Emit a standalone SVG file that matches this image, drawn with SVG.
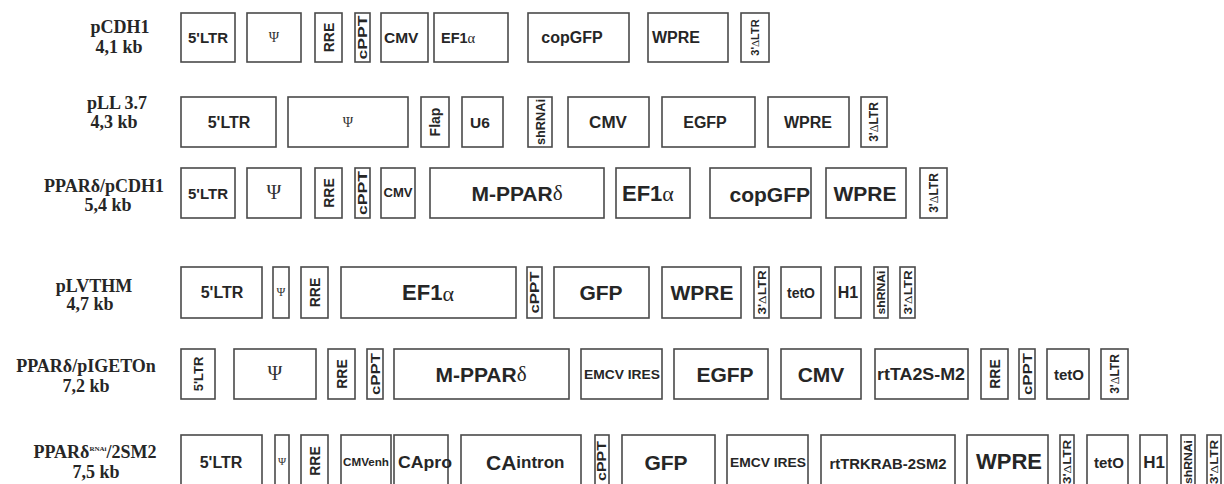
<svg xmlns="http://www.w3.org/2000/svg" width="1224" height="484" viewBox="0 0 1224 484">
<style>
.b{fill:#fff;stroke:#4a4a4a;stroke-width:1.6}
.t{font-family:"Liberation Sans",Arial,sans-serif;font-weight:bold;fill:#262626;text-anchor:middle;dominant-baseline:central}
.s{text-anchor:start}
.e{text-anchor:end}
.g{font-family:"Liberation Serif","Times New Roman",serif;font-weight:normal}
.psi{font-family:"Liberation Serif","Times New Roman",serif;font-weight:normal;fill:#333;text-anchor:middle;dominant-baseline:central}
.lab{font-family:"Liberation Serif","Times New Roman",serif;font-weight:bold;font-size:18px;fill:#262626;text-anchor:middle}
</style>
<rect width="1224" height="484" fill="#fff"/>

<!-- Row 1: pCDH1 -->
<g id="row1">
<g id="r1-label"><text class="lab" x="120" y="33">pCDH1</text><text class="lab" x="119" y="53">4,1 kb</text></g>
<g id="r1-5ltr"><rect class="b" x="181" y="13" width="54" height="49"/><text class="t" x="208" y="37.5" font-size="15">5'LTR</text></g>
<g id="r1-psi"><rect class="b" x="247" y="13" width="54" height="49"/><text class="psi" x="274" y="37" font-size="14">Ψ</text></g>
<g id="r1-rre"><rect class="b" x="315" y="13" width="27" height="49"/><text class="t" font-size="14" transform="translate(328.5,37.5) rotate(-90)">RRE</text></g>
<g id="r1-cppt"><rect class="b" x="355" y="13" width="15" height="49"/><text class="t" font-size="13" textLength="44" lengthAdjust="spacingAndGlyphs" transform="translate(362.5,37.5) rotate(-90)">cPPT</text></g>
<g id="r1-cmv"><rect class="b" x="381" y="13" width="47" height="49"/><text class="t s" x="384" y="37.5" font-size="15.5">CMV</text></g>
<g id="r1-ef1a"><rect class="b" x="434" y="13" width="74" height="49"/><text class="t s" x="441" y="37.5" font-size="14.5">EF1<tspan class="g">α</tspan></text></g>
<g id="r1-copgfp"><rect class="b" x="528" y="13" width="101" height="49"/><text class="t" x="572" y="37.5" font-size="16">copGFP</text></g>
<g id="r1-wpre"><rect class="b" x="648" y="13" width="80" height="49"/><text class="t s" x="652" y="37.5" font-size="16">WPRE</text></g>
<g id="r1-3ltr"><rect class="b" x="741" y="13" width="28" height="49"/><text class="t" font-size="11" transform="translate(755,37.5) rotate(-90)">3'<tspan class="g">Δ</tspan>LTR</text></g>
</g>

<!-- Row 2: pLL 3.7 -->
<g id="row2">
<g id="r2-label"><text class="lab" x="117" y="109">pLL 3.7</text><text class="lab" x="114" y="128">4,3 kb</text></g>
<g id="r2-5ltr"><rect class="b" x="181" y="97" width="95" height="50"/><text class="t" x="229" y="122" font-size="16">5'LTR</text></g>
<g id="r2-psi"><rect class="b" x="288" y="97" width="120" height="50"/><text class="psi" x="348" y="122" font-size="14">Ψ</text></g>
<g id="r2-flap"><rect class="b" x="421" y="97" width="28" height="50"/><text class="t" font-size="14" transform="translate(435,122) rotate(-90)">Flap</text></g>
<g id="r2-u6"><rect class="b" x="462" y="97" width="41" height="50"/><text class="t" x="480" y="122" font-size="15.5">U6</text></g>
<g id="r2-shrnai"><rect class="b" x="528" y="97" width="24" height="50"/><text class="t" font-size="13" textLength="46" lengthAdjust="spacingAndGlyphs" transform="translate(540,122) rotate(-90)">shRNAi</text></g>
<g id="r2-cmv"><rect class="b" x="568" y="97" width="81" height="50"/><text class="t" x="608" y="122" font-size="17">CMV</text></g>
<g id="r2-egfp"><rect class="b" x="662" y="97" width="93" height="50"/><text class="t" x="705" y="122" font-size="16">EGFP</text></g>
<g id="r2-wpre"><rect class="b" x="768" y="97" width="81" height="50"/><text class="t" x="808" y="122" font-size="16">WPRE</text></g>
<g id="r2-3ltr"><rect class="b" x="861" y="97" width="26" height="50"/><text class="t" font-size="12" transform="translate(874,122) rotate(-90)">3'<tspan class="g">Δ</tspan>LTR</text></g>
</g>

<!-- Row 3: PPARδ/pCDH1 -->
<g id="row3">
<g id="r3-label"><text class="lab" x="104" y="192">PPARδ/pCDH1</text><text class="lab" x="108" y="211">5,4 kb</text></g>
<g id="r3-5ltr"><rect class="b" x="181" y="168" width="54" height="50"/><text class="t" x="208" y="193" font-size="15">5'LTR</text></g>
<g id="r3-psi"><rect class="b" x="247" y="168" width="54" height="50"/><text class="psi" x="274" y="192" font-size="20">Ψ</text></g>
<g id="r3-rre"><rect class="b" x="315" y="168" width="27" height="50"/><text class="t" font-size="14" transform="translate(328.5,193) rotate(-90)">RRE</text></g>
<g id="r3-cppt"><rect class="b" x="355" y="168" width="15" height="50"/><text class="t" font-size="13" textLength="44" lengthAdjust="spacingAndGlyphs" transform="translate(362.5,193) rotate(-90)">cPPT</text></g>
<g id="r3-cmv"><rect class="b" x="381" y="168" width="34" height="50"/><text class="t" x="398" y="193" font-size="12" textLength="29" lengthAdjust="spacingAndGlyphs">CMV</text></g>
<g id="r3-mppar"><rect class="b" x="430" y="168" width="174" height="50"/><text class="t" x="517" y="193" font-size="21">M-PPAR<tspan class="g">δ</tspan></text></g>
<g id="r3-ef1a"><rect class="b" x="616" y="168" width="74" height="50"/><text class="t s" x="622" y="193" font-size="22">EF1<tspan class="g">α</tspan></text></g>
<g id="r3-copgfp"><rect class="b" x="710" y="168" width="101" height="50"/><text class="t e" x="810" y="194" font-size="21">copGFP</text></g>
<g id="r3-wpre"><rect class="b" x="826" y="168" width="80" height="50"/><text class="t" x="865" y="193" font-size="21">WPRE</text></g>
<g id="r3-3ltr"><rect class="b" x="920" y="168" width="27" height="50"/><text class="t" font-size="12" transform="translate(933.5,193) rotate(-90)">3'<tspan class="g">Δ</tspan>LTR</text></g>
</g>

<!-- Row 4: pLVTHM -->
<g id="row4">
<g id="r4-label"><text class="lab" x="94" y="292">pLVTHM</text><text class="lab" x="90" y="310">4,7 kb</text></g>
<g id="r4-5ltr"><rect class="b" x="181" y="267" width="81" height="51"/><text class="t" x="222" y="292.5" font-size="16">5'LTR</text></g>
<g id="r4-psi"><rect class="b" x="273" y="267" width="16" height="51"/><text class="psi" x="281" y="292" font-size="12">Ψ</text></g>
<g id="r4-rre"><rect class="b" x="301" y="267" width="27" height="51"/><text class="t" font-size="14" transform="translate(314.5,292.5) rotate(-90)">RRE</text></g>
<g id="r4-ef1a"><rect class="b" x="341" y="267" width="175" height="51"/><text class="t" x="428" y="292.5" font-size="22">EF1<tspan class="g">α</tspan></text></g>
<g id="r4-cppt"><rect class="b" x="527" y="267" width="15" height="51"/><text class="t" font-size="12" textLength="42" lengthAdjust="spacingAndGlyphs" transform="translate(534.5,292.5) rotate(-90)">cPPT</text></g>
<g id="r4-gfp"><rect class="b" x="554" y="267" width="95" height="51"/><text class="t" x="601" y="292.5" font-size="21">GFP</text></g>
<g id="r4-wpre"><rect class="b" x="662" y="267" width="79" height="51"/><text class="t" x="702" y="292.5" font-size="21">WPRE</text></g>
<g id="r4-3ltr-a"><rect class="b" x="754" y="267" width="15" height="51"/><text class="t" font-size="11" textLength="44" lengthAdjust="spacingAndGlyphs" transform="translate(761.5,292.5) rotate(-90)">3'<tspan class="g">Δ</tspan>LTR</text></g>
<g id="r4-teto"><rect class="b" x="781" y="267" width="40" height="51"/><text class="t" x="801" y="292.5" font-size="14">tetO</text></g>
<g id="r4-h1"><rect class="b" x="835" y="267" width="26" height="51"/><text class="t" x="848" y="292.5" font-size="16">H1</text></g>
<g id="r4-shrnai"><rect class="b" x="874" y="267" width="14" height="51"/><text class="t" font-size="11" textLength="44" lengthAdjust="spacingAndGlyphs" transform="translate(881,292.5) rotate(-90)">shRNAi</text></g>
<g id="r4-3ltr-b"><rect class="b" x="900" y="267" width="15" height="51"/><text class="t" font-size="11" textLength="44" lengthAdjust="spacingAndGlyphs" transform="translate(907.5,292.5) rotate(-90)">3'<tspan class="g">Δ</tspan>LTR</text></g>
</g>

<!-- Row 5: PPARδ/pIGETOn -->
<g id="row5">
<g id="r5-label"><text class="lab" x="86" y="372">PPARδ/pIGETOn</text><text class="lab" x="86" y="392">7,2 kb</text></g>
<g id="r5-5ltr"><rect class="b" x="181" y="349" width="34" height="50"/><text class="t" font-size="13" transform="translate(198,374) rotate(-90)">5'LTR</text></g>
<g id="r5-psi"><rect class="b" x="234" y="349" width="82" height="50"/><text class="psi" x="275" y="373" font-size="20">Ψ</text></g>
<g id="r5-rre"><rect class="b" x="328" y="349" width="27" height="50"/><text class="t" font-size="14" transform="translate(341.5,374) rotate(-90)">RRE</text></g>
<g id="r5-cppt"><rect class="b" x="367" y="349" width="16" height="50"/><text class="t" font-size="13" textLength="42" lengthAdjust="spacingAndGlyphs" transform="translate(375,374) rotate(-90)">cPPT</text></g>
<g id="r5-mppar"><rect class="b" x="394" y="349" width="175" height="50"/><text class="t" x="481" y="374" font-size="21">M-PPAR<tspan class="g">δ</tspan></text></g>
<g id="r5-emcv"><rect class="b" x="581" y="349" width="81" height="50"/><text class="t" x="622" y="375" font-size="12" textLength="76" lengthAdjust="spacingAndGlyphs">EMCV IRES</text></g>
<g id="r5-egfp"><rect class="b" x="674" y="349" width="94" height="50"/><text class="t" x="725" y="374" font-size="21">EGFP</text></g>
<g id="r5-cmv"><rect class="b" x="781" y="349" width="80" height="50"/><text class="t" x="821" y="374" font-size="21">CMV</text></g>
<g id="r5-rtta"><rect class="b" x="875" y="349" width="93" height="50"/><text class="t" x="921" y="374" font-size="16" textLength="88" lengthAdjust="spacingAndGlyphs">rtTA2S-M2</text></g>
<g id="r5-rre2"><rect class="b" x="981" y="349" width="27" height="50"/><text class="t" font-size="14" transform="translate(994.5,374) rotate(-90)">RRE</text></g>
<g id="r5-cppt2"><rect class="b" x="1019" y="349" width="16" height="50"/><text class="t" font-size="13" textLength="42" lengthAdjust="spacingAndGlyphs" transform="translate(1027,374) rotate(-90)">cPPT</text></g>
<g id="r5-teto"><rect class="b" x="1047" y="349" width="42" height="50"/><text class="t" x="1069" y="374" font-size="15">tetO</text></g>
<g id="r5-3ltr"><rect class="b" x="1101" y="349" width="27" height="50"/><text class="t" font-size="12" transform="translate(1114.5,374) rotate(-90)">3'<tspan class="g">Δ</tspan>LTR</text></g>
</g>

<!-- Row 6: PPARδRNAi/2SM2 -->
<g id="row6">
<g id="r6-label"><text class="lab" x="95" y="458">PPARδ<tspan font-size="7" dy="-7">RNAi</tspan><tspan dy="7">/2SM2</tspan></text><text class="lab" x="96" y="478">7,5 kb</text></g>
<g id="r6-5ltr"><rect class="b" x="181" y="435" width="81" height="60"/><text class="t" x="221" y="462" font-size="16">5'LTR</text></g>
<g id="r6-psi"><rect class="b" x="275" y="435" width="14" height="60"/><text class="psi" x="282" y="461" font-size="11">Ψ</text></g>
<g id="r6-rre"><rect class="b" x="301" y="435" width="27" height="60"/><text class="t" font-size="14" transform="translate(314.5,461) rotate(-90)">RRE</text></g>
<g id="r6-cmvenh"><rect class="b" x="341" y="435" width="50" height="60"/><text class="t" x="366" y="462" font-size="10" textLength="46" lengthAdjust="spacingAndGlyphs">CMVenh</text></g>
<g id="r6-capro"><rect class="b" x="394" y="435" width="54" height="60"/><text class="t s" x="398" y="462" font-size="17" textLength="54" lengthAdjust="spacingAndGlyphs">CApro</text></g>
<g id="r6-caintron"><rect class="b" x="461" y="435" width="120" height="60"/><text class="t s" x="486" y="462" font-size="21">CA<tspan font-size="17">intron</tspan></text></g>
<g id="r6-cppt"><rect class="b" x="595" y="435" width="14" height="60"/><text class="t" font-size="12" textLength="40" lengthAdjust="spacingAndGlyphs" transform="translate(602,461) rotate(-90)">cPPT</text></g>
<g id="r6-gfp"><rect class="b" x="622" y="435" width="93" height="60"/><text class="t" x="666" y="462" font-size="21">GFP</text></g>
<g id="r6-emcv"><rect class="b" x="727" y="435" width="81" height="60"/><text class="t" x="768" y="463" font-size="12" textLength="76" lengthAdjust="spacingAndGlyphs">EMCV IRES</text></g>
<g id="r6-rttrkrab"><rect class="b" x="821" y="435" width="134" height="60"/><text class="t" x="888" y="463" font-size="15" textLength="117" lengthAdjust="spacingAndGlyphs">rtTRKRAB-2SM2</text></g>
<g id="r6-wpre"><rect class="b" x="967" y="435" width="81" height="60"/><text class="t" x="1009" y="461" font-size="22">WPRE</text></g>
<g id="r6-3ltr-a"><rect class="b" x="1060" y="435" width="14" height="60"/><text class="t" font-size="11" textLength="44" lengthAdjust="spacingAndGlyphs" transform="translate(1067,462) rotate(-90)">3'<tspan class="g">Δ</tspan>LTR</text></g>
<g id="r6-teto"><rect class="b" x="1087" y="435" width="41" height="60"/><text class="t" x="1109" y="462" font-size="15">tetO</text></g>
<g id="r6-h1"><rect class="b" x="1140" y="435" width="27" height="60"/><text class="t" x="1154" y="462" font-size="17">H1</text></g>
<g id="r6-shrnai"><rect class="b" x="1181" y="435" width="14" height="60"/><text class="t" font-size="11" textLength="44" lengthAdjust="spacingAndGlyphs" transform="translate(1188,462) rotate(-90)">shRNAi</text></g>
<g id="r6-3ltr-b"><rect class="b" x="1207" y="435" width="14" height="60"/><text class="t" font-size="11" textLength="44" lengthAdjust="spacingAndGlyphs" transform="translate(1214,462) rotate(-90)">3'<tspan class="g">Δ</tspan>LTR</text></g>
</g>

<g id="connectors"></g>
</svg>
